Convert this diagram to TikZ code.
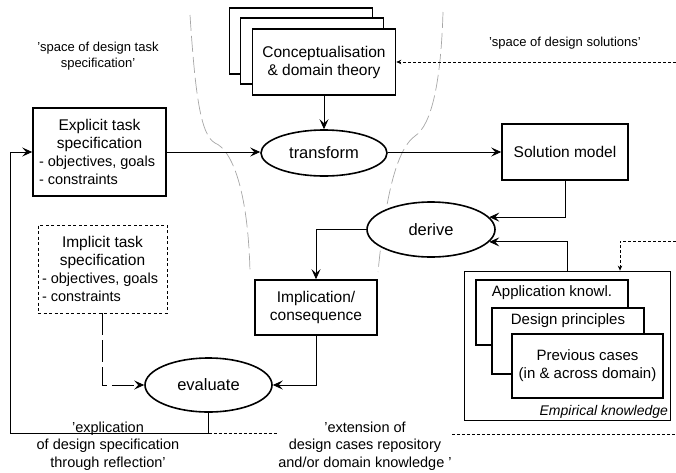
\documentclass[tikz,border=0pt]{standalone}
\usepackage{fontspec}
\setmainfont{Liberation Sans}
\usetikzlibrary{calc, arrows, arrows.meta, shapes.geometric}
\tikzstyle{blk}=[draw, line width=1.6pt, fill=white, align=center, inner sep=0pt, font=\fontsize{15.5}{18}\selectfont]
\tikzstyle{op}=[draw, ellipse, line width=1.6pt, fill=white, inner sep=0pt, font=\fontsize{16.5}{18}\selectfont]
\tikzstyle{imp}=[draw, line width=0.8pt, dash pattern=on 3pt off 2.5pt, align=center, inner sep=0pt, font=\fontsize{15.5}{18}\selectfont]
\tikzstyle{knw}=[draw, line width=1.6pt, fill=white, minimum width=152pt, minimum height=65pt]
\tikzstyle{kl}=[anchor=north, inner sep=6pt, font=\fontsize{15}{18}\selectfont]
\tikzstyle{note}=[align=center, font=\fontsize{13}{16}\selectfont]
\tikzstyle{bnote}=[align=center, font=\fontsize{14.5}{17.5}\selectfont]
\tikzstyle{bound}=[gray!70, line width=0.7pt, dash pattern=on 16pt off 5pt]
\tikzstyle{dots}=[line width=0.8pt, dash pattern=on 3pt off 2pt, -{Stealth[length=5pt, width=4.5pt]}]
\tikzstyle{ldash}=[line width=0.8pt, dash pattern=on 22pt off 5pt]
\newcommand{\lst}[1]{\makebox[121pt][l]{\fontsize{14.5}{18}\selectfont #1}}

\begin{document}
\begin{tikzpicture}[x=1pt, y=-1pt, >={Stealth[length=10pt, width=9pt, inset=4pt]}, line width=0.8pt]
      \useasboundingbox (0,0) rectangle (676,472);
      \draw[bound] (190,15) .. controls (195,90) and (200,135) .. (215,143)
            .. controls (232,150) and (248,190) .. (250,272);
      \draw[bound] (443,12) .. controls (441,80) and (432,125) .. (415,136)
            .. controls (398,148) and (386,190) .. (378,272);
      \node [note] (tasksp) at (98,56) {'space of design task\\ specification'};
      \node [note] (solsp) at (565,43) {'space of design solutions'};
      \node [blk, minimum width=143pt, minimum height=66pt] (conc2) at (301,41) {};
      \node [blk, minimum width=143pt, minimum height=66pt] (conc1) at (312,51) {};
      \node [blk, minimum width=143pt, minimum height=66pt] (conc) at (324,62) {Conceptualisation\\ \& domain theory};
      \node [blk, minimum width=133pt, minimum height=88pt] (expl) at (99.5,152)
            {Explicit task\\ specification\\ \lst{- objectives, goals}\\ \lst{- constraints}};
      \node [op, minimum width=126pt, minimum height=46pt] (trans) at (324,153) {transform};
      \node [blk, minimum width=126pt, minimum height=56pt] (sol) at (565,152) {Solution model};
      \node [op, minimum width=128pt, minimum height=55pt] (der) at (431,229.5) {derive};
      \node [imp, minimum width=129pt, minimum height=88pt] (imp) at (102.5,269)
            {Implicit task\\ specification\\ \lst{- objectives, goals}\\ \lst{- constraints}};
      \node [blk, minimum width=122pt, minimum height=55pt] (cons) at (316,307.5) {Implication/\\ consequence};
      \node [op, minimum width=127pt, minimum height=54pt] (eval) at (208.5,385) {evaluate};
      \node [draw, line width=0.8pt, minimum width=206pt, minimum height=149pt,
            label={[anchor=south east, inner sep=2pt, font=\fontsize{14}{16}\selectfont\itshape]south east:Empirical knowledge}] (emp) at (567,345.5) {};
      \node [knw, label={[kl]north:Application knowl.}] (app) at (552,312.5) {};
      \node [knw, minimum height=66pt, label={[kl]north:Design principles}] (dp) at (568,341) {};
      \node [knw, minimum width=151pt, minimum height=64pt, align=center, font=\fontsize{15}{18}\selectfont] (prev) at (587.5,366) {Previous cases\\ (in \& across domain)};
      \node [bnote] (explic) at (108,446) {'explication\\ of design specification\\ through reflection'};
      \node [bnote] (extn) at (365,446) {'extension of\\ design cases repository\\ and/or domain knowledge '};
      \coordinate (solin) at (676,62);
      \coordinate (empin) at (676,241);
      \coordinate (fb) at (eval.south |- 0,433);
      \coordinate (back) at (10,433);
      \coordinate (ext1) at (277,433);
      \coordinate (ext2) at (452,434);
      \coordinate (ext3) at (676,434);
      \draw[->] (conc) -- (trans);
      \draw[->] (expl.east) -- (expl.east -| trans.west);
      \draw[->] (trans.east |- sol.west) -- (sol.west);
      \draw[->] (sol.south) |- (der.12);
      \draw[->] (emp.north) |- (der.-12);
      \draw[->] (der.west) -| (cons.north);
      \draw[->] (cons.south) |- (eval.east);
      \draw[->, ldash] (imp.south) |- (eval.west);
      \draw[->] (eval.south) -- (fb) -- (back) |- (expl.west);
      \draw[dots, -] (fb) -- (ext1);
      \draw[dots, -] (ext2) -- (ext3);
      \draw[dots] (solin) -- (conc.east);
      \draw[dots] (empin) -| ($(emp.north)+(53,0)$);
\end{tikzpicture}
\end{document}
